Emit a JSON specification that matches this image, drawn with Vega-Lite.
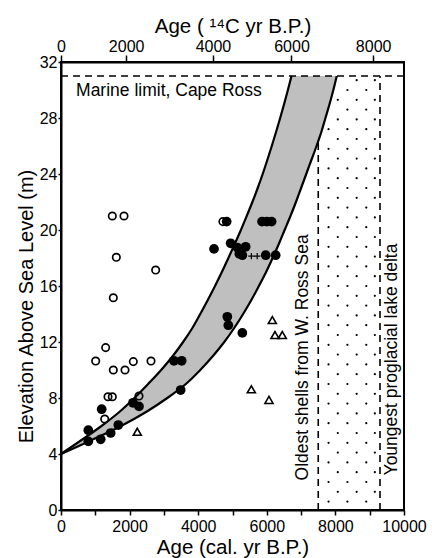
{
  "$schema": "https://vega.github.io/schema/vega-lite/v6.json",
  "width": 343,
  "height": 448,
  "autosize": {"type": "none"},
  "padding": {"left": 61, "top": 62, "right": 28, "bottom": 48},
  "config": {
    "font": "Liberation Sans",
    "view": {"stroke": "black", "strokeWidth": 2},
    "axis": {
      "domainColor": "black", "domainWidth": 2, "tickColor": "black", "tickWidth": 1.5,
      "labelColor": "black", "titleColor": "black", "grid": false,
      "labelFont": "Liberation Sans", "titleFont": "Liberation Sans",
      "labelFontSize": 16, "titleFontSize": 20.5, "titleFontWeight": "normal"
    }
  },
  "datasets": {
    "band": [
      {"y": 4, "xl": 0, "xr": 0}, {"y": 5, "xl": 600, "xr": 900}, {"y": 6, "xl": 1180, "xr": 1750},
      {"y": 7, "xl": 1700, "xr": 2480}, {"y": 8, "xl": 2140, "xr": 3100}, {"y": 9, "xl": 2540, "xr": 3640},
      {"y": 10, "xl": 2920, "xr": 4060}, {"y": 11, "xl": 3260, "xr": 4430}, {"y": 12, "xl": 3560, "xr": 4760},
      {"y": 13, "xl": 3830, "xr": 5050}, {"y": 14, "xl": 4060, "xr": 5310}, {"y": 15, "xl": 4280, "xr": 5550},
      {"y": 16, "xl": 4490, "xr": 5770}, {"y": 17, "xl": 4690, "xr": 5980}, {"y": 18, "xl": 4880, "xr": 6170},
      {"y": 19, "xl": 5065, "xr": 6350}, {"y": 20, "xl": 5245, "xr": 6520}, {"y": 21, "xl": 5415, "xr": 6690},
      {"y": 22, "xl": 5580, "xr": 6850}, {"y": 23, "xl": 5735, "xr": 7000}, {"y": 24, "xl": 5880, "xr": 7150},
      {"y": 25, "xl": 6015, "xr": 7300}, {"y": 26, "xl": 6145, "xr": 7450}, {"y": 27, "xl": 6270, "xr": 7590},
      {"y": 28, "xl": 6390, "xr": 7710}, {"y": 29, "xl": 6505, "xr": 7830}, {"y": 30, "xl": 6615, "xr": 7940},
      {"y": 31, "xl": 6720, "xr": 8040}
    ],
    "lines": [
      {"x": 0, "x2": 10000, "y": 31, "y2": 31},
      {"x": 7500, "x2": 7500, "y": 0, "y2": 26.3},
      {"x": 9300, "x2": 9300, "y": 0, "y2": 31}
    ],
    "dots": [
      {"x": 7800, "y": 0.6}, {"x": 8350, "y": 0.6}, {"x": 8900, "y": 0.6},
      {"x": 8070, "y": 1.3}, {"x": 8620, "y": 1.3}, {"x": 9150, "y": 1.3},
      {"x": 7800, "y": 2.0}, {"x": 8350, "y": 2.0}, {"x": 8900, "y": 2.0},
      {"x": 8070, "y": 2.7}, {"x": 8620, "y": 2.7}, {"x": 9150, "y": 2.7},
      {"x": 7800, "y": 3.4}, {"x": 8350, "y": 3.4}, {"x": 8900, "y": 3.4},
      {"x": 8070, "y": 4.1}, {"x": 8620, "y": 4.1}, {"x": 9150, "y": 4.1},
      {"x": 7800, "y": 4.8}, {"x": 8350, "y": 4.8}, {"x": 8900, "y": 4.8},
      {"x": 8070, "y": 5.5}, {"x": 8620, "y": 5.5}, {"x": 9150, "y": 5.5},
      {"x": 7800, "y": 6.2}, {"x": 8350, "y": 6.2}, {"x": 8900, "y": 6.2},
      {"x": 8070, "y": 6.9}, {"x": 8620, "y": 6.9}, {"x": 9150, "y": 6.9},
      {"x": 7800, "y": 7.6}, {"x": 8350, "y": 7.6}, {"x": 8900, "y": 7.6},
      {"x": 8070, "y": 8.3}, {"x": 8620, "y": 8.3}, {"x": 9150, "y": 8.3},
      {"x": 7800, "y": 9.0}, {"x": 8350, "y": 9.0}, {"x": 8900, "y": 9.0},
      {"x": 8070, "y": 9.7}, {"x": 8620, "y": 9.7}, {"x": 9150, "y": 9.7},
      {"x": 7800, "y": 10.4}, {"x": 8350, "y": 10.4}, {"x": 8900, "y": 10.4},
      {"x": 8070, "y": 11.1}, {"x": 8620, "y": 11.1}, {"x": 9150, "y": 11.1},
      {"x": 7800, "y": 11.8}, {"x": 8350, "y": 11.8}, {"x": 8900, "y": 11.8},
      {"x": 8070, "y": 12.5}, {"x": 8620, "y": 12.5}, {"x": 9150, "y": 12.5},
      {"x": 7800, "y": 13.2}, {"x": 8350, "y": 13.2}, {"x": 8900, "y": 13.2},
      {"x": 8070, "y": 13.9}, {"x": 8620, "y": 13.9}, {"x": 9150, "y": 13.9},
      {"x": 7800, "y": 14.6}, {"x": 8350, "y": 14.6}, {"x": 8900, "y": 14.6},
      {"x": 8070, "y": 15.3}, {"x": 8620, "y": 15.3}, {"x": 9150, "y": 15.3},
      {"x": 7800, "y": 16.0}, {"x": 8350, "y": 16.0}, {"x": 8900, "y": 16.0},
      {"x": 8070, "y": 16.7}, {"x": 8620, "y": 16.7}, {"x": 9150, "y": 16.7},
      {"x": 7800, "y": 17.4}, {"x": 8350, "y": 17.4}, {"x": 8900, "y": 17.4},
      {"x": 8070, "y": 18.1}, {"x": 8620, "y": 18.1}, {"x": 9150, "y": 18.1},
      {"x": 7800, "y": 18.8}, {"x": 8350, "y": 18.8}, {"x": 8900, "y": 18.8},
      {"x": 8070, "y": 19.5}, {"x": 8620, "y": 19.5}, {"x": 9150, "y": 19.5},
      {"x": 7800, "y": 20.2}, {"x": 8350, "y": 20.2}, {"x": 8900, "y": 20.2},
      {"x": 8070, "y": 20.9}, {"x": 8620, "y": 20.9}, {"x": 9150, "y": 20.9},
      {"x": 7800, "y": 21.6}, {"x": 8350, "y": 21.6}, {"x": 8900, "y": 21.6},
      {"x": 8070, "y": 22.3}, {"x": 8620, "y": 22.3}, {"x": 9150, "y": 22.3},
      {"x": 7800, "y": 23.0}, {"x": 8350, "y": 23.0}, {"x": 8900, "y": 23.0},
      {"x": 8070, "y": 23.7}, {"x": 8620, "y": 23.7}, {"x": 9150, "y": 23.7},
      {"x": 7800, "y": 24.4}, {"x": 8350, "y": 24.4}, {"x": 8900, "y": 24.4},
      {"x": 8070, "y": 25.1}, {"x": 8620, "y": 25.1}, {"x": 9150, "y": 25.1},
      {"x": 7800, "y": 25.8}, {"x": 8350, "y": 25.8}, {"x": 8900, "y": 25.8},
      {"x": 8070, "y": 26.5}, {"x": 8620, "y": 26.5}, {"x": 9150, "y": 26.5},
      {"x": 7800, "y": 27.2}, {"x": 8350, "y": 27.2}, {"x": 8900, "y": 27.2},
      {"x": 8070, "y": 27.9}, {"x": 8620, "y": 27.9}, {"x": 9150, "y": 27.9},
      {"x": 8350, "y": 28.6}, {"x": 8900, "y": 28.6},
      {"x": 8070, "y": 29.3}, {"x": 8620, "y": 29.3}, {"x": 9150, "y": 29.3},
      {"x": 8350, "y": 30.0}, {"x": 8900, "y": 30.0},
      {"x": 8620, "y": 30.7}, {"x": 9150, "y": 30.7}
    ],
    "pts": [
      {"x": 796, "y": 5.7, "t": "filled"}, {"x": 796, "y": 4.9, "t": "filled"}, {"x": 1157, "y": 5.05, "t": "filled"},
      {"x": 1449, "y": 5.5, "t": "filled"}, {"x": 1671, "y": 6.07, "t": "filled"}, {"x": 1186, "y": 7.2, "t": "filled"},
      {"x": 2099, "y": 7.66, "t": "filled"}, {"x": 2274, "y": 7.4, "t": "filled"}, {"x": 3294, "y": 10.66, "t": "filled"},
      {"x": 3518, "y": 10.66, "t": "filled"}, {"x": 3489, "y": 8.57, "t": "filled"}, {"x": 4461, "y": 18.65, "t": "filled"},
      {"x": 4830, "y": 20.6, "t": "filled"}, {"x": 4946, "y": 19.05, "t": "filled"}, {"x": 5141, "y": 18.75, "t": "filled"},
      {"x": 5384, "y": 18.8, "t": "filled"}, {"x": 5287, "y": 18.2, "t": "filled"}, {"x": 5200, "y": 18.3, "t": "filled"},
      {"x": 5968, "y": 18.2, "t": "filled"}, {"x": 6259, "y": 18.2, "t": "filled"}, {"x": 5860, "y": 20.6, "t": "filled"},
      {"x": 6000, "y": 20.6, "t": "filled"}, {"x": 6140, "y": 20.6, "t": "filled"}, {"x": 4849, "y": 13.8, "t": "filled"},
      {"x": 4878, "y": 13.2, "t": "filled"}, {"x": 5287, "y": 12.65, "t": "filled"},
      {"x": 4720, "y": 20.6, "t": "open"}, {"x": 1496, "y": 21.0, "t": "open"}, {"x": 1837, "y": 21.0, "t": "open"},
      {"x": 1613, "y": 18.05, "t": "open"}, {"x": 2760, "y": 17.14, "t": "open"}, {"x": 1525, "y": 15.16, "t": "open"},
      {"x": 1302, "y": 11.6, "t": "open"}, {"x": 1011, "y": 10.64, "t": "open"}, {"x": 1525, "y": 10.0, "t": "open"},
      {"x": 1866, "y": 10.0, "t": "open"}, {"x": 2108, "y": 10.6, "t": "open"}, {"x": 2624, "y": 10.64, "t": "open"},
      {"x": 1370, "y": 8.09, "t": "open"}, {"x": 1496, "y": 8.09, "t": "open"}, {"x": 2274, "y": 8.14, "t": "open"},
      {"x": 1274, "y": 6.5, "t": "open"},
      {"x": 2225, "y": 5.59, "t": "tri"}, {"x": 5549, "y": 8.62, "t": "tri"}, {"x": 6064, "y": 7.86, "t": "tri"},
      {"x": 6161, "y": 13.57, "t": "tri"}, {"x": 6239, "y": 12.5, "t": "tri"}, {"x": 6452, "y": 12.5, "t": "tri"},
      {"x": 5550, "y": 18.14, "t": "cross"}, {"x": 5720, "y": 18.14, "t": "cross"}
    ],
    "notes": [
      {"x": 439, "y": 29.55, "label": "Marine limit, Cape Ross", "dir": "h"},
      {"x": 7050, "y": 10.9, "label": "Oldest shells from W. Ross Sea", "dir": "v"},
      {"x": 9660, "y": 10.75, "label": "Youngest proglacial lake delta", "dir": "v"}
    ]
  },
  "encoding": {
    "y": {
      "field": "y", "type": "quantitative",
      "scale": {"domain": [0, 32], "nice": false, "zero": false},
      "axis": {
        "values": [0, 4, 8, 12, 16, 20, 24, 28, 32],
        "tickSize": 3, "labelPadding": 1,
        "title": "Elevation Above Sea Level (m)", "titleFontSize": 20,
        "titleX": -35, "titleY": 244, "titleBaseline": "middle", "titleAngle": -90, "titleAlign": "center"
      }
    }
  },
  "resolve": {"axis": {"x": "independent"}},
  "layer": [
    {
      "data": {"name": "dots"},
      "mark": {"type": "point", "filled": true, "color": "black", "size": 5, "opacity": 1},
      "encoding": {"x": {"field": "x", "type": "quantitative", "scale": {"domain": [0, 10000], "nice": false}, "axis": null}}
    },
    {
      "data": {"name": "band"},
      "mark": {"type": "area", "orient": "horizontal", "color": "#bfbfbf", "opacity": 1, "interpolate": "catmull-rom"},
      "encoding": {
        "x": {"field": "xl", "type": "quantitative", "scale": {"domain": [0, 10000], "nice": false}, "axis": null},
        "x2": {"field": "xr"}
      }
    },
    {
      "data": {"name": "band"},
      "mark": {"type": "line", "color": "black", "strokeWidth": 2.2, "interpolate": "catmull-rom"},
      "encoding": {
        "x": {"field": "xl", "type": "quantitative", "scale": {"domain": [0, 10000], "nice": false}, "axis": null},
        "order": {"field": "y", "type": "quantitative"}
      }
    },
    {
      "data": {"name": "band"},
      "mark": {"type": "line", "color": "black", "strokeWidth": 2.2, "interpolate": "catmull-rom"},
      "encoding": {
        "x": {"field": "xr", "type": "quantitative", "scale": {"domain": [0, 10000], "nice": false}, "axis": null},
        "order": {"field": "y", "type": "quantitative"}
      }
    },
    {
      "data": {"name": "lines"},
      "mark": {"type": "rule", "color": "black", "strokeWidth": 1.6, "strokeDash": [7, 5]},
      "encoding": {
        "x": {"field": "x", "type": "quantitative", "scale": {"domain": [0, 10000], "nice": false}, "axis": null},
        "x2": {"field": "x2"},
        "y2": {"field": "y2"}
      }
    },
    {
      "data": {"name": "pts"},
      "transform": [{"filter": "datum.t == 'filled'"}],
      "mark": {"type": "point", "shape": "circle", "filled": true, "color": "black", "size": 95, "opacity": 1},
      "encoding": {
        "x": {
          "field": "x", "type": "quantitative", "scale": {"domain": [0, 10000], "nice": false},
          "axis": {
            "orient": "bottom", "title": "Age (cal. yr B.P.)",
            "values": [0, 1000, 2000, 3000, 4000, 5000, 6000, 7000, 8000, 9000, 10000],
            "format": "d", "labelExpr": "datum.value % 2000 == 0 ? datum.label : ''",
            "tickSize": 5, "labelPadding": 3, "titlePadding": 3, "labelFlush": false
          }
        }
      }
    },
    {
      "data": {"name": "pts"},
      "transform": [{"filter": "datum.t == 'open'"}],
      "mark": {"type": "point", "shape": "circle", "filled": false, "stroke": "black", "strokeWidth": 1.7, "size": 55, "opacity": 1},
      "encoding": {"x": {"field": "x", "type": "quantitative", "scale": {"domain": [0, 10000], "nice": false}, "axis": null}}
    },
    {
      "data": {"name": "pts"},
      "transform": [{"filter": "datum.t == 'tri'"}],
      "mark": {"type": "point", "shape": "triangle-up", "filled": false, "stroke": "black", "strokeWidth": 1.6, "size": 65, "opacity": 1},
      "encoding": {"x": {"field": "x", "type": "quantitative", "scale": {"domain": [0, 10000], "nice": false}, "axis": null}}
    },
    {
      "data": {"name": "pts"},
      "transform": [{"filter": "datum.t == 'cross'"}],
      "mark": {"type": "point", "shape": "M-1,0H1M0,-1V1", "filled": false, "stroke": "black", "strokeWidth": 1.2, "size": 40, "opacity": 1},
      "encoding": {"x": {"field": "x", "type": "quantitative", "scale": {"domain": [0, 10000], "nice": false}, "axis": null}}
    },
    {
      "data": {"name": "notes"},
      "transform": [{"filter": "datum.dir == 'h'"}],
      "mark": {"type": "text", "align": "left", "baseline": "alphabetic", "fontSize": 17.5, "color": "black", "font": "Liberation Sans"},
      "encoding": {
        "x": {
          "field": "x", "type": "quantitative", "scale": {"domain": [0, 10000], "nice": false},
          "axis": {
            "orient": "top", "title": "Age ( ¹⁴C yr B.P.)",
            "values": [0, 1900, 4430, 6720, 9100],
            "labelExpr": "datum.value == 0 ? '0' : datum.value == 1900 ? '2000' : datum.value == 4430 ? '4000' : datum.value == 6720 ? '6000' : '8000'",
            "tickSize": 7, "labelPadding": 1, "titlePadding": 2, "labelFlush": false
          }
        },
        "text": {"field": "label"}
      }
    },
    {
      "data": {"name": "notes"},
      "transform": [{"filter": "datum.dir == 'v'"}],
      "mark": {"type": "text", "align": "center", "baseline": "middle", "angle": 270, "fontSize": 17.5, "color": "black", "font": "Liberation Sans"},
      "encoding": {
        "x": {"field": "x", "type": "quantitative", "scale": {"domain": [0, 10000], "nice": false}, "axis": null},
        "text": {"field": "label"}
      }
    }
  ]
}
